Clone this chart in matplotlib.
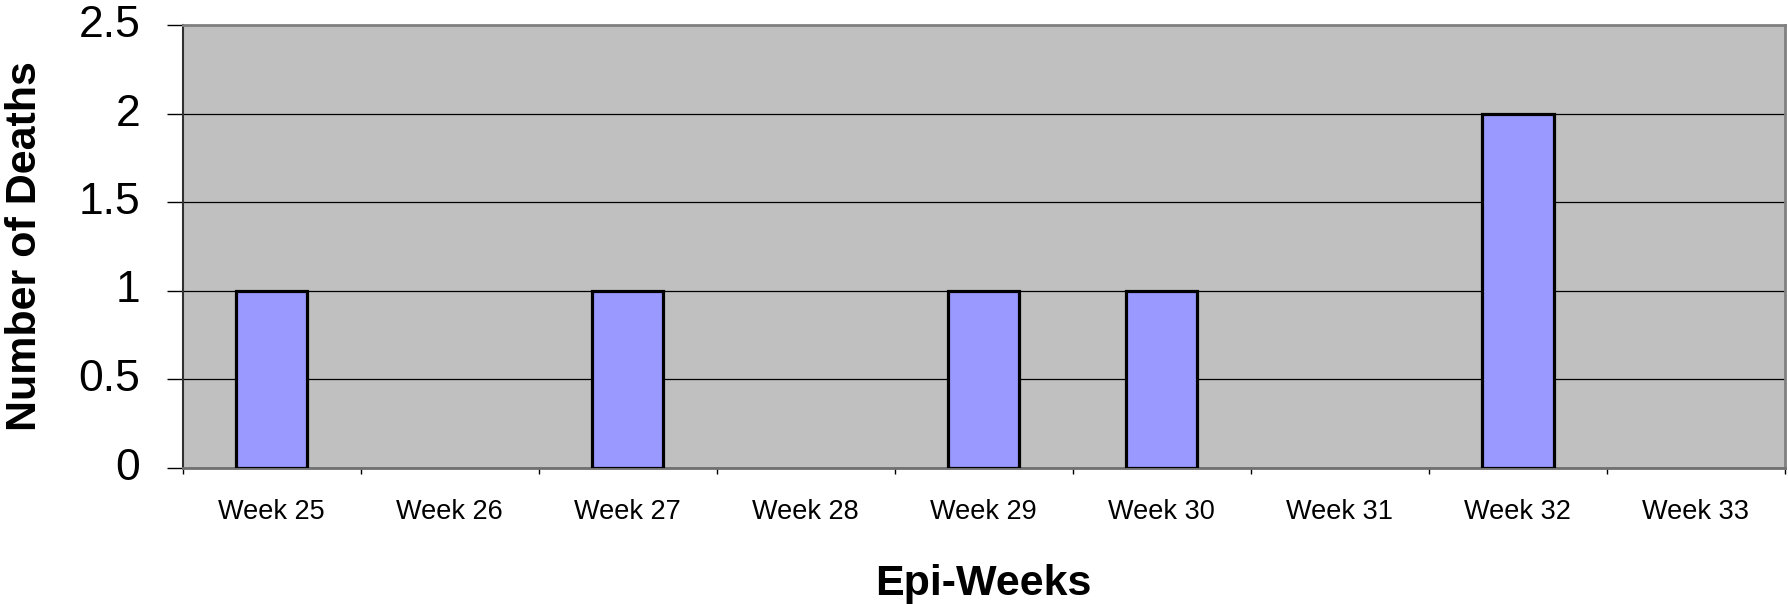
import matplotlib
matplotlib.use("Agg")
import matplotlib.pyplot as plt
import matplotlib.transforms as mtransforms
import numpy as np

categories = ["Week 25", "Week 26", "Week 27", "Week 28", "Week 29",
              "Week 30", "Week 31", "Week 32", "Week 33"]
deaths = [1, 0, 1, 0, 1, 1, 0, 2, 0]
y_ticks = [0, 0.5, 1, 1.5, 2, 2.5]
y_tick_labels = ["0", "0.5", "1", "1.5", "2", "2.5"]

plt.rcParams['font.family'] = ['Liberation Sans', 'DejaVu Sans']

W, H = 1788, 604
fig = plt.figure(figsize=(W / 100, H / 100), dpi=100)
left, right, top, bottom = 182.5, 1785, 25, 467.5
ax = fig.add_axes([left / W, 1 - bottom / H, (right - left) / W, (bottom - top) / H])
ax.set_facecolor("#C0C0C0")

x = np.arange(len(categories))
edges = ["black" if v > 0 else "none" for v in deaths]
ax.bar(x, deaths, width=0.4, color="#9999FF", edgecolor=edges, linewidth=2.3, zorder=3)

ax.set_xlim(-0.5, len(categories) - 0.5)
ax.set_ylim(0, 2.5)
ax.set_yticks(y_ticks)
ax.set_yticklabels(y_tick_labels, fontsize=32)
ax.yaxis.grid(True, color="black", linewidth=0.9, zorder=1)
ax.set_axisbelow(True)
ax.tick_params(axis='y', length=11.5, width=1, color="black", pad=19)
offset = mtransforms.ScaledTranslation(0, 4 / 100, fig.dpi_scale_trans)
for lab in ax.get_yticklabels():
    lab.set_transform(lab.get_transform() + offset)

# boundaries as major ticks, labels at centers via minor ticks
ax.set_xticks(np.arange(len(categories) + 1) - 0.5)
ax.set_xticklabels([])
ax.set_xticks(x, minor=True)
ax.set_xticklabels(categories, minor=True, fontsize=19.5)
ax.tick_params(axis='x', which='major', length=4.5, width=1, color="black")
ax.tick_params(axis='x', which='minor', length=0, pad=23)

for s in ["top", "right"]:
    ax.spines[s].set_color("#808080")
    ax.spines[s].set_linewidth(2)
ax.spines["left"].set_color("#303030")
ax.spines["left"].set_linewidth(1.5)
ax.spines["bottom"].set_color("#707070")
ax.spines["bottom"].set_linewidth(2)

ax.set_xlabel("Epi-Weeks", fontsize=31, fontweight="bold")
ax.xaxis.set_label_coords(0.5, -0.264)
ax.xaxis.label.set_va("center")
ax.set_ylabel("Number of Deaths", fontsize=31, fontweight="bold")
ax.yaxis.set_label_coords(-0.0983, 0.5)
ax.yaxis.label.set_va("center")

fig.savefig("out.png", dpi=100)
